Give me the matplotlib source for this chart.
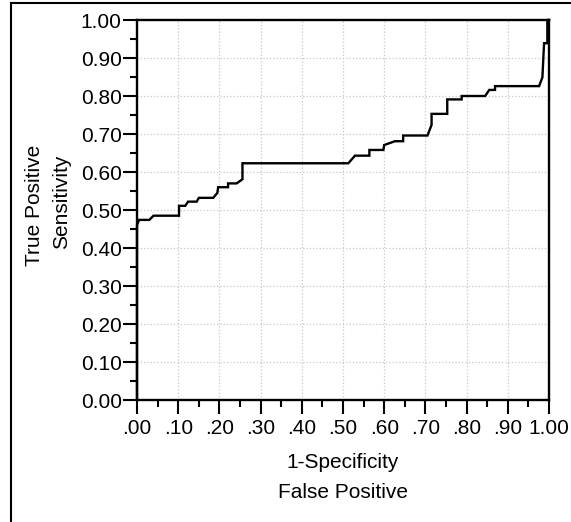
import matplotlib
matplotlib.use("Agg")
import matplotlib.pyplot as plt
from matplotlib.lines import Line2D

plt.rcParams['font.family'] = ['Liberation Sans', 'DejaVu Sans']

# ROC curve vertices (1-specificity, sensitivity)
fpr = [0.0, 0.0, 0.005, 0.03, 0.04, 0.102, 0.102, 0.117, 0.124, 0.145, 0.15,
       0.185, 0.195, 0.197, 0.221, 0.221, 0.242, 0.256, 0.256, 0.513, 0.529,
       0.564, 0.564, 0.598, 0.600, 0.626, 0.646, 0.646, 0.705, 0.715, 0.715,
       0.753, 0.753, 0.788, 0.788, 0.845, 0.855, 0.869, 0.869, 0.976, 0.984,
       0.988, 0.996, 0.996, 1.0]
tpr = [0.0, 0.46, 0.474, 0.474, 0.485, 0.485, 0.511, 0.511, 0.522, 0.522, 0.532,
       0.532, 0.545, 0.56, 0.56, 0.570, 0.570, 0.581, 0.623, 0.623, 0.643,
       0.643, 0.658, 0.658, 0.671, 0.681, 0.681, 0.696, 0.696, 0.724, 0.753,
       0.753, 0.791, 0.791, 0.8, 0.8, 0.816, 0.816, 0.826, 0.826, 0.849,
       0.939, 0.939, 1.0, 1.0]

major = [i / 10 for i in range(11)]
minor = [i / 20 for i in range(21)]
xlabels = ['.00', '.10', '.20', '.30', '.40', '.50', '.60', '.70', '.80', '.90', '1.00']
ylabels = ['0.00', '0.10', '0.20', '0.30', '0.40', '0.50', '0.60', '0.70', '0.80', '0.90', '1.00']

W, H = 571, 522
fig = plt.figure(figsize=(W / 100, H / 100), dpi=100)
ax = fig.add_axes([137 / W, 1 - 400 / H, 412 / W, 380 / H])

ax.plot(fpr, tpr, color='black', lw=1.7, solid_joinstyle='miter', clip_on=False, zorder=3)

ax.set_xlim(0, 1)
ax.set_ylim(0, 1)
ax.set_xticks(major)
ax.set_xticks(minor, minor=True)
ax.set_yticks(major)
ax.set_yticks(minor, minor=True)
ax.set_xticklabels(xlabels)
ax.set_yticklabels(ylabels)
ax.tick_params(which='major', direction='out', length=10, width=1.5, labelsize=15, color='black')
ax.tick_params(which='minor', direction='out', length=5, width=1.5, color='black')
ax.tick_params(axis='x', which='major', pad=4)
ax.tick_params(axis='y', which='major', pad=1)
ax.grid(True, which='major', color='#c8c8c8', ls=':', lw=0.9)
ax.set_axisbelow(True)
for s in ax.spines.values():
    s.set_linewidth(1.7)
    s.set_color('black')

# axis titles, two lines each
fig.text(343 / W, 1 - 462 / H, '1-Specificity', fontsize=15, ha='center', va='center')
fig.text(343 / W, 1 - 493 / H, 'False Positive', fontsize=15, ha='center', va='center')
fig.text(34 / W, 1 - 205 / H, 'True Positive', fontsize=15, ha='center', va='center', rotation=90)
fig.text(62 / W, 1 - 202 / H, 'Sensitivity', fontsize=15, ha='center', va='center', rotation=90)

# outer frame of the exported picture
fig.add_artist(Line2D([11 / W, 11 / W], [0, 1 - 3 / H], color='black', lw=1.5,
                      transform=fig.transFigure))
fig.add_artist(Line2D([11 / W, 1], [1 - 3 / H, 1 - 3 / H], color='black', lw=1.5,
                      transform=fig.transFigure))

fig.savefig('out.png', dpi=100)
